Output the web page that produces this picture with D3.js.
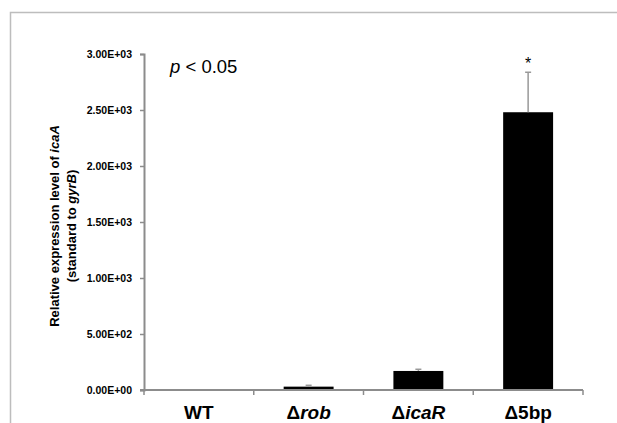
<!DOCTYPE html>
<html>
<head>
<meta charset="utf-8">
<script src="https://cdn.jsdelivr.net/npm/d3@7"></script>
<style>
  body { margin: 0; background: #fff; }
  svg { display: block; font-family: "Liberation Sans", Arial, sans-serif; }
</style>
</head>
<body>
<div id="chart"></div>
<script>
// chart data
const strains = ["WT", "rob", "icaR", "5bp"];
const strainDelta = [false, true, true, true];
const strainItalic = [false, true, true, false];
const expression = [1, 30, 170, 2480];
const errorUp = [0, 12, 15, 357];
const significant = [false, false, false, true];
const yTicks = [0, 500, 1000, 1500, 2000, 2500, 3000];

const width = 617, height = 423;
const margin = { left: 144, right: 34, top: 54, bottom: 33 };

// Excel style scientific labels, e.g. 2.50E+03
const sciFormat = d => {
  if (d === 0) return "0.00E+00";
  const e = Math.floor(Math.log10(d));
  const m = d / Math.pow(10, e);
  return m.toFixed(2) + "E+" + String(e).padStart(2, "0");
};

const svg = d3.select("#chart").append("svg")
  .attr("width", width)
  .attr("height", height);

// outer frame
svg.append("path")
  .attr("d", `M10.5,${height} V12.5 H${width}`)
  .attr("fill", "none")
  .attr("stroke", "#bdbdbd")
  .attr("stroke-width", 1.5);

const x = d3.scaleBand()
  .domain(strains)
  .range([margin.left, width - margin.right])
  .paddingInner(0.545)
  .paddingOuter(0.2725);

const y = d3.scaleLinear()
  .domain([0, 3000])
  .range([height - margin.bottom, margin.top]);

// bars
svg.selectAll("rect.bar")
  .data(strains)
  .enter()
  .append("rect")
  .attr("class", "bar")
  .attr("x", d => x(d))
  .attr("width", x.bandwidth())
  .attr("y", (d, i) => y(expression[i]))
  .attr("height", (d, i) => y(0) - y(expression[i]))
  .attr("fill", "#000");

// error bars
const err = svg.append("g")
  .attr("stroke", "#999")
  .attr("stroke-width", 1.5);
strains.forEach((s, i) => {
  if (!errorUp[i]) return;
  const cx = x(s) + x.bandwidth() / 2;
  const top = y(expression[i] + errorUp[i]);
  err.append("line")
    .attr("x1", cx).attr("x2", cx)
    .attr("y1", y(expression[i])).attr("y2", top);
  err.append("line")
    .attr("x1", cx - 3).attr("x2", cx + 3)
    .attr("y1", top).attr("y2", top);
  if (significant[i]) {
    svg.append("text")
      .attr("x", cx)
      .attr("y", top - 3)
      .attr("text-anchor", "middle")
      .attr("font-size", 16)
      .attr("fill", "#000")
      .text("*");
  }
});

// y axis
const yAxis = svg.append("g")
  .attr("transform", `translate(${margin.left},0)`)
  .call(d3.axisLeft(y).tickValues(yTicks).tickSize(4).tickPadding(8).tickFormat(sciFormat));
yAxis.select(".domain").attr("stroke", "#8c8c8c").attr("stroke-width", 2);
yAxis.selectAll(".tick line").attr("stroke", "#8c8c8c").attr("stroke-width", 1.5);
yAxis.selectAll(".tick text")
  .attr("font-size", 10.5)
  .attr("font-weight", "bold")
  .attr("font-family", "\"Liberation Sans\", Arial, sans-serif")
  .attr("fill", "#000");

// x axis with ticks at band boundaries
const boundaries = strains.map(s => x(s) - x.step() * x.paddingInner() / 2)
  .concat([width - margin.right]);
const xAxisG = svg.append("g").attr("stroke", "#8c8c8c");
xAxisG.append("line")
  .attr("x1", margin.left - 4).attr("x2", width - margin.right)
  .attr("y1", y(0)).attr("y2", y(0))
  .attr("stroke-width", 2);
xAxisG.selectAll("line.tk")
  .data(boundaries)
  .enter()
  .append("line")
  .attr("class", "tk")
  .attr("x1", d => d).attr("x2", d => d)
  .attr("y1", y(0)).attr("y2", y(0) + 5)
  .attr("stroke-width", 1.5);

// category labels
const labels = svg.selectAll("text.cat")
  .data(strains)
  .enter()
  .append("text")
  .attr("class", "cat")
  .attr("x", d => x(d) + x.bandwidth() / 2)
  .attr("y", 419)
  .attr("text-anchor", "middle")
  .attr("font-size", 19)
  .attr("font-weight", "bold")
  .attr("fill", "#000");
labels.each(function (d, i) {
  const t = d3.select(this);
  if (strainDelta[i]) t.append("tspan").text("\u0394");
  t.append("tspan")
    .attr("font-style", strainItalic[i] ? "italic" : "normal")
    .text(d);
});

// y axis title
const title = svg.append("text")
  .attr("transform", "translate(54,226) rotate(-90)")
  .attr("text-anchor", "middle")
  .attr("font-size", 13)
  .attr("font-weight", "bold")
  .attr("fill", "#000");
title.append("tspan").attr("x", 0).attr("dy", "0.35em").text("Relative expression level of ");
title.append("tspan").attr("font-style", "italic").text("icaA");
title.append("tspan").attr("x", 0).attr("dy", "1.35em").text("(standard to ");
title.append("tspan").attr("font-style", "italic").text("gyrB");
title.append("tspan").text(")");

// p-value annotation
const pv = svg.append("text")
  .attr("x", 170)
  .attr("y", 73)
  .attr("font-size", 18.5)
  .attr("fill", "#000");
pv.append("tspan").attr("font-style", "italic").text("p");
pv.append("tspan").text(" < 0.05");
</script>
</body>
</html>
